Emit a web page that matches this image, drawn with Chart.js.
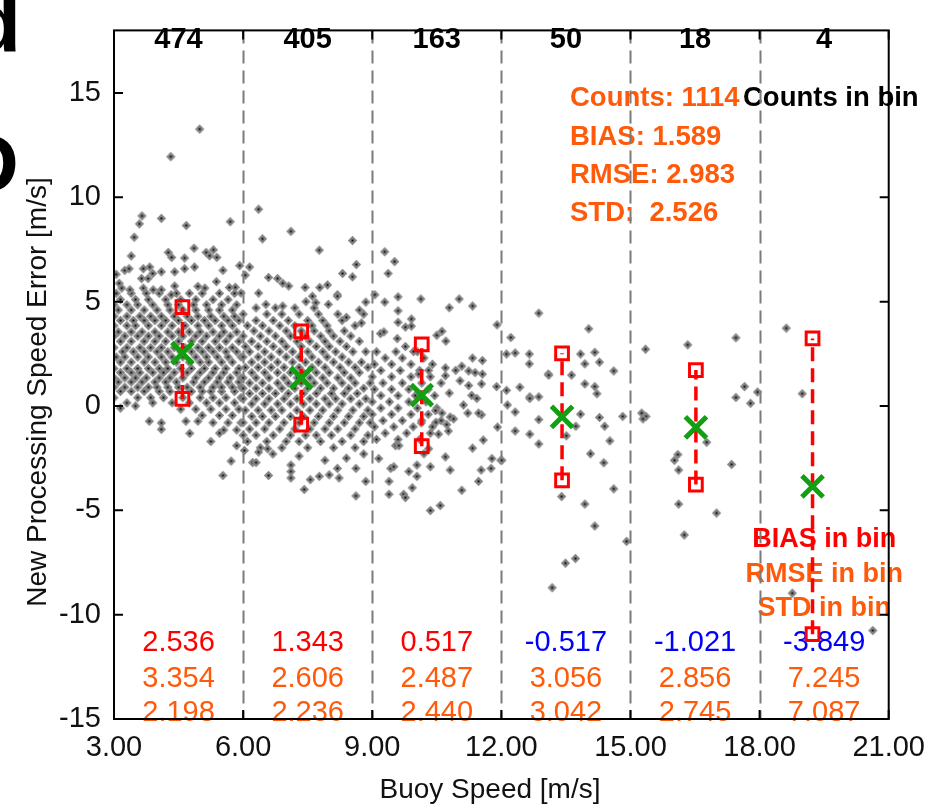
<!DOCTYPE html>
<html>
<head>
<meta charset="utf-8">
<script src="https://cdn.jsdelivr.net/npm/chart.js@4.4.1/dist/chart.umd.min.js"></script>
<style>
html, body { margin: 0; padding: 0; background: #fff; }
canvas { display: block; }
</style>
</head>
<body>
<canvas id="speedError" width="937" height="810"></canvas>
<script>
// axis ticks
const xTicks = [3, 6, 9, 12, 15, 18, 21];
const yTicks = [-15, -10, -5, 0, 5, 10, 15];

// buoy speed bins
const binEdges = [6, 9, 12, 15, 18];
const binCenters = [4.5, 7.5, 10.5, 13.5, 16.5, 19.5];
const binCounts = [474, 405, 163, 50, 18, 4];
const binMeanSpeed = [4.59, 7.35, 10.15, 13.41, 16.52, 19.23];
const binBias = [2.536, 1.343, 0.517, -0.517, -1.021, -3.849];
const binRmse = [3.354, 2.606, 2.487, 3.056, 2.856, 7.245];
const binStd = [2.198, 2.236, 2.440, 3.042, 2.745, 7.087];

// overall stats
const totalCounts = 1114;
const totalBias = 1.589;
const totalRmse = 2.983;
const totalStd = 2.526;

// scatter cloud: dense parts as rows [y, [x...]]
const bin1Rows = [
  [-1.15, [5.55, 5.85]],
  [-0.8, [5.3, 5.65, 5.95]],
  [-0.45, [5.05, 5.45, 5.75]],
  [-0.15, [4.55, 4.9, 5.25, 5.6, 5.9]],
  [0.15, [3.3, 3.9, 4.35, 4.75, 5.15, 5.45, 5.8]],
  [0.4, [3.0, 3.55, 3.85, 4.15, 4.6, 5.0, 5.3, 5.6, 5.95]],
  [0.7, [3.15, 3.4, 3.7, 4.05, 4.3, 4.8, 5.05, 5.25, 5.5, 5.8]],
  [0.9, [3.0, 3.25, 3.55, 3.8, 4.0, 4.25, 4.5, 4.7, 5.0, 5.3, 5.5, 5.75, 5.95]],
  [1.15, [3.1, 3.4, 3.65, 3.95, 4.2, 4.45, 4.85, 5.1, 5.4, 5.65, 5.9]],
  [1.35, [3.0, 3.25, 3.5, 3.75, 4.05, 4.3, 4.6, 4.9, 5.2, 5.45, 5.7, 5.95]],
  [1.6, [3.15, 3.4, 3.6, 3.9, 4.15, 4.4, 4.7, 5.0, 5.3, 5.55, 5.85]],
  [1.8, [3.0, 3.3, 3.55, 3.8, 4.05, 4.25, 4.55, 4.8, 5.1, 5.35, 5.6, 5.9]],
  [2.1, [3.15, 3.4, 3.7, 3.95, 4.2, 4.45, 4.75, 5.0, 5.2, 5.5, 5.75]],
  [2.35, [3.05, 3.25, 3.55, 3.8, 4.1, 4.35, 4.6, 4.9, 5.15, 5.4, 5.65, 5.95]],
  [2.6, [3.2, 3.45, 3.7, 4.0, 4.25, 4.55, 4.8, 5.05, 5.3, 5.6, 5.85]],
  [2.8, [3.0, 3.3, 3.6, 3.85, 4.1, 4.4, 4.65, 4.95, 5.2, 5.45, 5.75]],
  [3.1, [3.15, 3.4, 3.7, 3.95, 4.2, 4.5, 4.8, 5.05, 5.35, 5.6, 5.9]],
  [3.35, [3.0, 3.25, 3.55, 3.8, 4.05, 4.35, 4.6, 4.9, 5.15, 5.45, 5.7]],
  [3.55, [3.1, 3.4, 3.65, 3.95, 4.25, 4.5, 4.75, 5.0, 5.3, 5.55, 5.85]],
  [3.85, [3.0, 3.3, 3.5, 3.8, 4.1, 4.35, 4.65, 4.95, 5.2, 5.5, 5.75]],
  [4.1, [3.15, 3.45, 3.7, 3.95, 4.2, 4.5, 4.8, 5.1, 5.35, 5.65, 5.9]],
  [4.3, [3.0, 3.3, 3.6, 3.85, 4.1, 4.4, 4.7, 4.95, 5.25, 5.55, 5.8]],
  [4.6, [3.1, 3.4, 3.7, 4.0, 4.3, 4.6, 4.9, 5.2, 5.45, 5.75]],
  [4.85, [3.0, 3.3, 3.55, 3.9, 4.25, 4.5, 4.85, 5.15, 5.5, 5.85]],
  [5.1, [3.15, 3.5, 3.8, 4.2, 4.55, 4.9, 5.3, 5.65]],
  [5.4, [3.05, 3.4, 3.75, 4.05, 4.45, 4.75, 5.05, 5.45, 5.8]]
];
const bin1Out = [
  [4.99, 13.27], [4.32, 11.95], [3.65, 9.11], [4.10, 8.99], [3.59, 8.73], [4.68, 8.65], [5.70, 8.83], [3.47, 8.09],
  [3.40, 7.19], [4.26, 7.36], [4.34, 7.12], [4.86, 7.56], [4.64, 7.09], [5.14, 7.36], [5.22, 7.2], [5.31, 7.48],
  [5.39, 7.12], [5.92, 6.73], [3.25, 6.50], [3.35, 6.58], [3.68, 6.58], [3.83, 6.66], [3.90, 6.35], [4.10, 6.43],
  [4.41, 6.43], [4.64, 6.58], [4.87, 6.66], [5.53, 6.50], [3.05, 6.31], [3.12, 5.88], [3.18, 5.65], [3.37, 5.57],
  [3.64, 6.11], [3.68, 5.65], [3.79, 6.11], [3.91, 5.57], [4.10, 5.57], [4.33, 5.33], [4.41, 5.75], [4.95, 5.73],
  [5.11, 5.65], [5.38, 5.96], [5.68, 5.68], [5.82, 5.69], [5.95, 5.41], [3.82, -0.73], [4.10, -0.81], [4.10, -1.12],
  [4.67, -0.73], [4.76, -1.31], [4.95, -0.73], [5.72, -2.64], [5.53, -3.33], [3.15, -0.1], [3.5, 0.0], [5.25, -1.7],
  [5.85, -1.9], [5.45, -1.3]
];
const bin2Rows = [
  [-2.0, [6.4, 6.9, 7.5, 8.1, 8.6]],
  [-1.7, [6.1, 6.55, 7.0, 7.3, 7.8, 8.3, 8.8]],
  [-1.4, [6.0, 6.3, 6.7, 7.1, 7.45, 7.7, 8.05, 8.5, 8.9]],
  [-1.1, [6.15, 6.5, 6.85, 7.2, 7.55, 7.9, 8.2, 8.6]],
  [-0.8, [6.0, 6.3, 6.6, 6.95, 7.3, 7.65, 8.0, 8.35, 8.7, 8.95]],
  [-0.5, [6.2, 6.45, 6.75, 7.1, 7.4, 7.75, 8.1, 8.45, 8.8]],
  [-0.2, [6.05, 6.35, 6.65, 6.9, 7.25, 7.55, 7.85, 8.2, 8.55, 8.9]],
  [0.1, [6.2, 6.5, 6.8, 7.1, 7.4, 7.7, 8.0, 8.3, 8.7]],
  [0.35, [6.0, 6.3, 6.6, 6.95, 7.25, 7.55, 7.9, 8.15, 8.5, 8.85]],
  [0.6, [6.15, 6.45, 6.75, 7.05, 7.4, 7.7, 8.05, 8.35, 8.65]],
  [0.85, [6.0, 6.3, 6.6, 6.9, 7.2, 7.5, 7.8, 8.1, 8.45, 8.8]],
  [1.1, [6.15, 6.45, 6.8, 7.05, 7.35, 7.65, 7.95, 8.3, 8.6, 8.95]],
  [1.35, [6.0, 6.3, 6.6, 6.95, 7.25, 7.55, 7.85, 8.2, 8.5]],
  [1.6, [6.2, 6.5, 6.8, 7.1, 7.4, 7.7, 8.0, 8.35, 8.7]],
  [1.85, [6.05, 6.35, 6.65, 6.95, 7.3, 7.6, 7.9, 8.25, 8.6, 8.9]],
  [2.1, [6.2, 6.5, 6.8, 7.15, 7.45, 7.75, 8.1, 8.45, 8.75]],
  [2.35, [6.0, 6.35, 6.65, 7.0, 7.3, 7.6, 7.95, 8.3]],
  [2.6, [6.15, 6.5, 6.85, 7.15, 7.5, 7.85, 8.15, 8.55, 8.85]],
  [2.85, [6.05, 6.35, 6.7, 7.0, 7.35, 7.7, 8.0, 8.4]],
  [3.1, [6.2, 6.55, 6.9, 7.25, 7.55, 7.9, 8.25, 8.7]],
  [3.35, [6.0, 6.4, 6.75, 7.1, 7.45, 7.8, 8.1, 8.5]],
  [3.6, [6.25, 6.6, 7.0, 7.35, 7.65, 8.0, 8.35]],
  [3.85, [6.1, 6.45, 6.85, 7.2, 7.6, 7.95, 8.6]],
  [4.1, [6.3, 6.7, 7.05, 7.5, 7.85, 8.3]],
  [4.4, [6.0, 6.55, 6.9, 7.3, 7.75, 8.2, 8.8]],
  [4.7, [6.3, 6.75, 7.2, 7.65]]
];
const bin2Out = [
  [6.36, 9.43], [6.45, 8.01], [7.11, 8.37], [7.77, 7.47], [8.54, 7.93], [8.63, 6.78], [8.31, 6.35], [8.54, 6.19],
  [8.19, 5.33], [8.85, 4.98], [8.40, 4.25], [8.75, 3.98], [6.15, 6.66], [6.05, 6.27], [6.59, 6.16], [6.80, 6.11],
  [6.92, 5.88], [7.06, 5.75], [7.44, 5.68], [7.78, 5.68], [7.96, 5.80], [6.36, 5.41], [7.61, 5.26], [7.69, 4.95],
  [7.98, 4.87], [8.19, 5.26], [6.53, 4.87], [6.92, 4.79], [7.46, 5.0], [8.7, 4.6],
  [6.03, -2.13], [6.22, -2.71], [6.30, -2.71], [6.36, -2.21], [6.57, -2.05], [6.69, -2.3], [6.59, -3.33], [7.11, -2.83],
  [7.11, -3.14], [7.42, -4.00], [7.56, -3.53], [7.77, -3.37], [7.11, -3.45], [8.00, -3.30], [8.19, -2.99], [8.23, -3.45],
  [8.85, -3.61], [8.62, -4.31], [8.62, -2.99], [8.4, -2.5], [8.8, -2.3], [7.3, -2.4], [7.9, -2.6]
];
const bin3Rows = [
  [-1.6, [9.1, 9.6, 10.1]],
  [-1.3, [9.3, 9.8, 10.35]],
  [-1.0, [9.05, 9.5, 9.95, 10.4]],
  [-0.7, [9.25, 9.7, 10.15, 10.6]],
  [-0.4, [9.0, 9.45, 9.9, 10.3]],
  [-0.1, [9.2, 9.6, 10.05, 10.5]],
  [0.2, [9.0, 9.4, 9.85, 10.25]],
  [0.5, [9.2, 9.6, 10.0, 10.45]],
  [0.8, [9.05, 9.45, 9.85, 10.3]],
  [1.1, [9.25, 9.7, 10.15, 10.6]],
  [1.4, [9.0, 9.45, 9.9, 10.35]],
  [1.7, [9.2, 9.65, 10.1]],
  [2.0, [9.05, 9.45, 9.9, 10.4]],
  [2.3, [9.3, 9.7, 10.2]],
  [2.6, [9.1, 9.55, 10.05]]
];
const bin3Out = [
  [9.29, 7.39], [9.52, 6.92], [9.37, 6.35], [9.06, 5.33], [9.29, 4.98], [9.60, 5.23], [10.13, 5.13], [11.02, 5.13],
  [10.79, 4.71], [11.33, 4.79], [9.60, 4.56], [9.60, 4.01], [9.77, 3.78], [9.91, 4.17], [9.91, 3.83], [10.50, 3.39],
  [10.62, 3.58], [10.71, 3.11], [9.19, 3.47], [9.27, 3.55], [9.58, 3.23], [9.77, 2.85], [9.96, 2.61], [11.33, 2.30],
  [11.56, 2.18], [11.08, 1.91], [11.24, 1.68], [11.39, 1.60], [11.56, 1.53], [10.94, 1.71], [10.70, 1.83], [10.70, 1.45],
  [10.31, 1.71], [10.08, 1.53], [11.54, 1.06], [11.24, 0.98], [11.04, 1.21], [10.79, 0.62], [11.12, 0.05], [11.31, 0.51],
  [11.43, 0.36], [11.54, -0.42], [11.22, -0.34], [11.47, -0.34], [10.47, -0.22], [10.62, -0.34], [10.48, -0.78], [10.73, -0.89],
  [10.81, -0.53], [10.89, -0.62], [10.54, -1.35], [10.14, -0.81], [10.31, -2.05], [10.20, -2.29], [10.35, -2.91], [10.04, -2.83],
  [9.85, -3.14], [10.04, -3.37], [9.93, -3.92], [9.73, -4.23], [9.77, -4.39], [9.39, -4.23], [9.39, -3.61], [9.43, -2.99],
  [9.50, -2.91], [9.54, -1.90], [9.62, -1.90], [9.15, -2.52], [10.35, -5.01], [10.58, -4.77], [10.70, -2.44], [10.81, -3.07],
  [11.08, -4.04], [11.33, -2.02], [11.58, -1.63], [11.78, -2.52], [11.76, -2.99], [11.53, -3.07], [11.47, -3.61], [11.99, -2.60],
  [10.77, -1.20], [11.90, 3.89], [11.89, 0.93], [11.91, -1.01]
];
const bin4Pts = [
  [12.22, 3.28], [12.12, 2.49], [12.32, 2.54], [12.65, 2.49], [12.65, 2.02], [13.09, 1.53], [12.43, 0.90], [12.66, 0.44],
  [12.87, 0.44], [12.12, 0.75], [12.14, 0.05], [12.32, -0.29], [12.66, 0.36], [12.87, -0.65], [12.66, -1.35], [12.87, -1.82],
  [12.32, -1.20], [12.01, -2.60], [12.87, 4.45], [14.03, 3.70], [13.84, 2.49], [14.17, 2.57], [13.94, 2.02], [14.28, 2.10],
  [13.10, 1.48], [13.63, 1.48], [14.61, 1.68], [13.94, 1.06], [14.17, 0.93], [14.22, 0.59], [14.82, -0.50], [14.28, -0.55],
  [14.40, -0.97], [13.84, -0.39], [13.73, -0.97], [13.51, -1.43], [14.52, -1.67], [14.07, -2.29], [14.38, -2.72], [14.61, -3.97],
  [13.40, -4.34], [13.94, -4.70], [14.17, -5.75], [14.91, -6.49], [13.49, -7.53], [13.72, -7.31], [13.18, -8.71]
];
const bin5Pts = [
  [15.35, 2.72], [16.33, 2.93], [17.45, 3.27], [15.26, -0.34], [15.36, -0.50], [15.29, -0.62], [17.65, 0.93], [17.45, 0.41],
  [17.79, 0.13], [16.77, -1.74], [16.10, -2.33], [16.02, -2.60], [16.12, -3.07], [17.35, -2.80], [16.12, -4.70], [17.00, -5.13],
  [16.25, -6.18], [17.95, 0.67]
];
const bin6Pts = [[18.62, 3.73], [18.99, 0.59], [18.76, -8.97], [20.63, -10.76]];

// ---- build datasets ----
const fromRows = rows => rows.flatMap(([yv, xs]) => xs.map(xv => ({ x: xv, y: yv })));
const fromPairs = pts => pts.map(([xv, yv]) => ({ x: xv, y: yv }));
const cloud = [
  ...fromRows(bin1Rows), ...fromPairs(bin1Out),
  ...fromRows(bin2Rows), ...fromPairs(bin2Out),
  ...fromRows(bin3Rows), ...fromPairs(bin3Out),
  ...fromPairs(bin4Pts), ...fromPairs(bin5Pts), ...fromPairs(bin6Pts)
];

// grey diamond with a dark centre, like the IDL symbol
function makeDot() {
  const c = document.createElement('canvas');
  c.width = 11; c.height = 11;
  const g = c.getContext('2d');
  g.fillStyle = '#858585';
  g.beginPath();
  g.moveTo(5.5, 0.8); g.lineTo(10.2, 5.5); g.lineTo(5.5, 10.2); g.lineTo(0.8, 5.5);
  g.closePath(); g.fill();
  g.fillStyle = '#0a0a0a';
  g.fillRect(4.5, 4.5, 2, 2);
  return c;
}

const RED = '#ff0000';
const ORANGE = '#ff5a0a';
const BLUE = '#0000ff';
const GREEN = '#12a012';
const FONT = '"Liberation Sans", Arial, Helvetica, sans-serif';

const errorBars = binMeanSpeed.map((s, i) => ({
  type: 'scatter',
  data: [{ x: s, y: binBias[i] - binStd[i] }, { x: s, y: binBias[i] + binStd[i] }],
  showLine: true,
  borderColor: RED,
  borderWidth: 3.5,
  borderDash: [14, 7],
  pointStyle: 'rect',
  pointRadius: 9,
  pointBorderColor: RED,
  pointBackgroundColor: 'rgba(0,0,0,0)',
  pointBorderWidth: 3,
  order: 2
}));

const overlay = {
  id: 'overlay',
  beforeDraw(chart) {
    const { ctx, scales: { x } } = chart;
    ctx.save();
    // cut-off panel letters at far left
    ctx.fillStyle = '#000';
    ctx.font = 'bold 84px ' + FONT;
    ctx.textAlign = 'right';
    ctx.textBaseline = 'alphabetic';
    ctx.fillText('d', 21, 52);
    ctx.fillText('D', 19, 192);

    ctx.textAlign = 'center';
    ctx.textBaseline = 'middle';
    // counts per bin
    ctx.font = 'bold 29px ' + FONT;
    binCounts.forEach((n, i) => ctx.fillText(String(n), x.getPixelForValue(binCenters[i]), 40));

    // bin stats along the bottom
    ctx.font = '29px ' + FONT;
    binCenters.forEach((c, i) => {
      const px = x.getPixelForValue(c);
      ctx.fillStyle = binBias[i] >= 0 ? RED : BLUE;
      ctx.fillText(binBias[i].toFixed(3), px, 643);
      ctx.fillStyle = ORANGE;
      ctx.fillText(binRmse[i].toFixed(3), px, 679);
      ctx.fillText(binStd[i].toFixed(3), px, 713);
    });

    // legend for bin stats
    const lx = x.getPixelForValue(binCenters[5]);
    ctx.font = 'bold 27px ' + FONT;
    ctx.fillStyle = RED;
    ctx.fillText('BIAS in bin', lx, 540);
    ctx.fillStyle = ORANGE;
    ctx.fillText('RMSE in bin', lx, 575);
    ctx.fillText('STD in bin', lx, 609);

    // overall stats
    ctx.textAlign = 'left';
    ctx.font = 'bold 27.5px ' + FONT;
    ctx.fillStyle = ORANGE;
    ctx.fillText('Counts: ' + totalCounts, 570, 98);
    ctx.fillText('BIAS: ' + totalBias.toFixed(3), 570, 137);
    ctx.fillText('RMSE: ' + totalRmse.toFixed(3), 570, 175);
    ctx.fillText('STD:  ' + totalStd.toFixed(3), 570, 213);
    ctx.fillStyle = '#000';
    ctx.fillText('Counts in bin', 743, 98);

    // axis titles
    ctx.font = '28px ' + FONT;
    ctx.fillStyle = '#111';
    ctx.textAlign = 'center';
    ctx.fillText('Buoy Speed [m/s]', 490, 790);
    ctx.translate(38, 392);
    ctx.rotate(-Math.PI / 2);
    ctx.fillText('New Processing Speed Error [m/s]', 0, 0);
    ctx.restore();
  },
  beforeDatasetsDraw(chart) {
    const { ctx, chartArea: a, scales: { x } } = chart;
    ctx.save();
    ctx.strokeStyle = '#7a7a7a';
    ctx.lineWidth = 2;
    ctx.setLineDash([13, 7]);
    binEdges.forEach(e => {
      const px = Math.round(x.getPixelForValue(e)) + 0.5;
      ctx.beginPath();
      ctx.moveTo(px, a.top);
      ctx.lineTo(px, a.bottom);
      ctx.stroke();
    });
    ctx.restore();
  },
  afterDatasetsDraw(chart) {
    const { ctx, chartArea: a, scales: { x, y } } = chart;
    ctx.save();
    ctx.strokeStyle = '#000';
    ctx.lineWidth = 2;
    ctx.strokeRect(a.left, a.top, a.right - a.left, a.bottom - a.top);
    const tl = 9;
    ctx.beginPath();
    yTicks.forEach(v => {
      const py = y.getPixelForValue(v);
      ctx.moveTo(a.left, py); ctx.lineTo(a.left + tl, py);
      ctx.moveTo(a.right, py); ctx.lineTo(a.right - tl, py);
    });
    xTicks.forEach(v => {
      const px = x.getPixelForValue(v);
      ctx.moveTo(px, a.bottom); ctx.lineTo(px, a.bottom - tl);
      ctx.moveTo(px, a.top); ctx.lineTo(px, a.top + tl);
    });
    ctx.stroke();
    ctx.restore();
  }
};

new Chart(document.getElementById('speedError'), {
  type: 'scatter',
  data: {
    datasets: [
      {
        data: binMeanSpeed.map((s, i) => ({ x: s, y: binBias[i] })),
        pointStyle: 'crossRot',
        pointRadius: 15,
        pointBorderWidth: 5,
        pointBorderColor: GREEN,
        borderColor: GREEN,
        order: 1
      },
      ...errorBars,
      {
        data: cloud,
        pointStyle: makeDot(),
        order: 3
      }
    ]
  },
  options: {
    responsive: false,
    devicePixelRatio: 1,
    animation: false,
    events: [],
    layout: { padding: { left: 0, right: 45, top: 12, bottom: 0 } },
    plugins: { legend: { display: false }, tooltip: { enabled: false } },
    scales: {
      x: {
        type: 'linear',
        min: 3,
        max: 21,
        afterBuildTicks: axis => { axis.ticks = xTicks.map(v => ({ value: v })); },
        afterFit: scale => { scale.height = 91; },
        grid: { display: false, drawTicks: false },
        border: { display: false },
        ticks: {
          autoSkip: false,
          maxRotation: 0,
          padding: 12,
          color: '#111',
          font: { family: FONT, size: 29 },
          callback: v => v.toFixed(2)
        }
      },
      y: {
        type: 'linear',
        min: -15,
        max: 18,
        afterBuildTicks: axis => { axis.ticks = yTicks.map(v => ({ value: v })); },
        afterFit: scale => { scale.width = 114; },
        grid: { display: false, drawTicks: false },
        border: { display: false },
        ticks: {
          padding: 13,
          color: '#111',
          font: { family: FONT, size: 29 },
          callback: v => String(v)
        }
      }
    }
  },
  plugins: [overlay]
});
</script>
</body>
</html>
